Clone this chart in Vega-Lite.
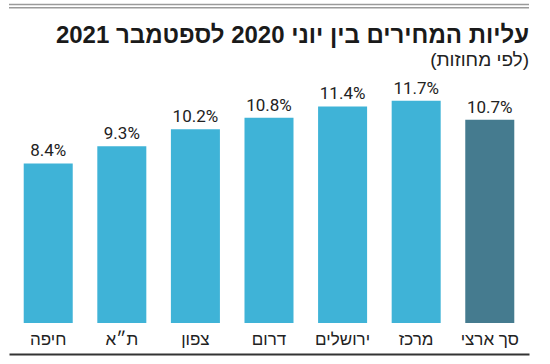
{
  "$schema": "https://vega.github.io/schema/vega-lite/v6.json",
  "width": 520,
  "height": 250,
  "autosize": "none",
  "padding": {"left": 9, "top": 73, "right": 21, "bottom": 41},
  "background": "white",
  "title": {
    "text": "עליות המחירים בין יוני 2020 לספטמבר 2021",
    "subtitle": "(לפי מחוזות)",
    "anchor": "end",
    "frame": "group",
    "font": "Liberation Sans",
    "fontSize": 24,
    "fontWeight": "bold",
    "color": "#1a1a1a",
    "subtitleFont": "Liberation Sans",
    "subtitleFontSize": 19,
    "subtitleColor": "#222222",
    "subtitlePadding": 3,
    "offset": -66
  },
  "config": {"view": {"stroke": null}},
  "data": {
    "values": [
      {"region": "חיפה", "value": 8.4, "label": "8.4%", "kind": "district"},
      {"region": "ת״א", "value": 9.3, "label": "9.3%", "kind": "district"},
      {"region": "צפון", "value": 10.2, "label": "10.2%", "kind": "district"},
      {"region": "דרום", "value": 10.8, "label": "10.8%", "kind": "district"},
      {"region": "ירושלים", "value": 11.4, "label": "11.4%", "kind": "district"},
      {"region": "מרכז", "value": 11.7, "label": "11.7%", "kind": "district"},
      {"region": "סך ארצי", "value": 10.7, "label": "10.7%", "kind": "total"}
    ]
  },
  "layer": [
    {
      "data": {"values": [{"line": 16.76}, {"line": 16.59}]},
      "mark": {"type": "rule", "color": "#9a9a9a", "strokeWidth": 1.4},
      "encoding": {
        "y": {"field": "line", "type": "quantitative", "scale": {"domain": [0, 13.158], "nice": false}, "axis": null}
      }
    },
    {
      "mark": {"type": "bar"},
      "encoding": {
        "x": {
          "field": "region",
          "type": "nominal",
          "sort": null,
          "scale": {"paddingInner": 0.334, "paddingOuter": 0.2},
          "axis": {
            "title": null,
            "orient": "bottom",
            "offset": 31,
            "domainColor": "#333333",
            "domainWidth": 2,
            "ticks": false,
            "labelPadding": -10,
            "labelBaseline": "alphabetic",
            "labelFont": "Liberation Sans",
            "labelFontSize": 17,
            "labelColor": "#222222",
            "labelAngle": 0
          }
        },
        "y": {"field": "value", "type": "quantitative", "scale": {"domain": [0, 13.158], "nice": false}, "axis": null},
        "color": {
          "field": "kind",
          "type": "nominal",
          "scale": {"domain": ["district", "total"], "range": ["#3fb3d7", "#457b8f"]},
          "legend": null
        }
      }
    },
    {
      "mark": {"type": "text", "dy": -7, "baseline": "alphabetic", "font": "Roboto", "fontSize": 17, "color": "#222222"},
      "encoding": {
        "x": {"field": "region", "type": "nominal", "sort": null},
        "y": {"field": "value", "type": "quantitative", "scale": {"domain": [0, 13.158], "nice": false}},
        "text": {"field": "label"}
      }
    }
  ]
}
